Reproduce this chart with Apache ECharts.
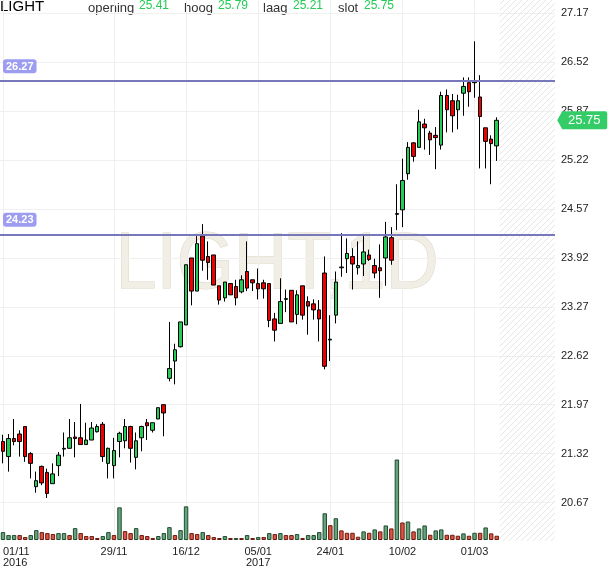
<!DOCTYPE html>
<html><head><meta charset="utf-8">
<script src="https://cdn.jsdelivr.net/npm/echarts@6/dist/echarts.min.js"></script>
<style>html,body{margin:0;padding:0;background:#fff}#c{width:610px;height:568px}</style>
</head><body><div id="c"></div>
<script>
// trading days (Euronext, 26/12 closed)
const nov16 = [1,2,3,4,7,8,9,10,11,14,15,16,17,18,21,22,23,24,25,28,29,30];
const dec16 = [1,2,5,6,7,8,9,12,13,14,15,16,19,20,21,22,23,27,28,29,30];
const jan17 = [2,3,4,5,6,9,10,11,12,13,16,17,18,19,20,23,24,25,26,27,30,31];
const feb17 = [1,2,3,6,7,8,9,10,13,14,15,16,17,20,21,22,23,24,27,28];
const mar17 = [1,2,3,6,7];

const opens = [21.48,21.28,21.52,21.58,21.68,21.32,20.88,21.15,21.07,20.92,
21.16,21.38,21.39,21.54,21.53,21.44,21.50,21.61,21.71,21.19,
21.16,21.48,21.49,21.68,21.27,21.53,21.73,21.63,21.78,21.97,
22.32,22.55,22.74,23.03,23.92,23.48,24.21,23.94,23.96,23.55,
23.39,23.58,23.54,23.47,23.74,23.63,23.58,23.59,23.58,23.11,
23.05,23.37,23.49,23.17,23.55,23.34,23.31,23.23,23.72,22.83,
23.16,23.79,23.91,23.94,23.79,23.84,23.96,23.82,23.79,23.92,
24.19,24.50,24.56,25.04,25.45,25.39,25.70,25.58,25.55,25.42,
26.08,26.01,25.89,26.11,26.25,26.25,26.06,25.65,25.50,25.41];
const closes = [21.35,21.52,21.48,21.48,21.28,21.19,20.96,20.93,20.79,21.05,
21.30,21.39,21.53,21.52,21.44,21.50,21.66,21.68,21.28,21.39,
21.36,21.59,21.68,21.39,21.49,21.68,21.69,21.73,21.93,21.86,
22.45,22.70,23.07,23.83,23.48,24.11,23.89,23.86,23.56,23.36,
23.60,23.43,23.39,23.63,23.52,23.59,23.51,23.51,23.09,22.96,
23.34,23.38,23.07,23.43,23.16,23.28,23.23,23.11,22.48,22.84,
23.60,23.80,23.98,23.84,23.82,24.00,23.90,23.72,23.75,24.20,
23.89,24.51,24.95,25.39,25.27,25.73,25.65,25.49,25.52,26.08,
25.89,25.81,26.01,26.20,26.13,26.26,25.80,25.47,25.44,25.75];
const lows = [21.19,21.08,21.43,21.28,21.21,20.99,20.80,20.90,20.73,20.92,
21.02,21.28,21.39,21.27,21.44,21.44,21.50,21.60,21.21,20.99,
20.99,21.27,21.39,21.20,21.11,21.35,21.50,21.60,21.78,21.55,
22.28,22.24,22.73,23.03,23.29,23.48,23.75,23.63,23.56,23.30,
23.34,23.43,23.29,23.45,23.48,23.48,23.37,23.38,23.00,22.81,
23.05,23.20,23.07,23.04,23.10,22.90,23.10,22.81,22.44,22.55,
23.05,23.67,23.72,23.50,23.70,23.68,23.88,23.65,23.39,23.55,
23.83,24.29,24.33,24.96,25.20,25.39,25.36,25.29,25.10,25.36,
25.59,25.59,25.63,25.81,25.93,26.05,25.11,25.11,24.90,25.21];
const highs = [21.57,21.58,21.78,21.63,21.68,21.34,21.08,21.16,21.12,21.19,
21.34,21.60,21.78,21.74,21.98,21.73,21.74,21.71,21.74,21.40,
21.53,21.61,21.78,21.69,21.60,21.69,21.78,21.73,21.93,21.97,
23.07,22.78,23.07,23.83,23.92,24.21,24.37,24.14,23.96,23.55,
23.60,23.58,23.63,23.69,24.14,23.63,23.78,23.63,23.58,23.19,
23.65,23.50,23.49,23.49,23.55,23.41,23.37,23.36,23.94,23.16,
23.74,24.25,24.18,24.05,24.14,24.21,24.03,23.91,24.10,24.40,
24.33,24.90,25.24,25.46,25.46,25.89,25.77,25.61,25.66,26.13,
26.16,26.10,26.09,26.32,26.32,26.80,26.35,25.65,25.55,25.79];
const volumes = [8,5,5,5,3,5,10,8,7,6,
7,7,5,12,7,4,4,2,4,8,
5,33,9,7,12,5,4,2,4,7,13,
5,10,34,7,6,8,5,3,2,4,
2,2,2,5,2,3,3,7,6,7,
5,5,6,2,5,5,8,27,15,22,
9.7,7.3,7.3,3.3,8.7,7.3,10.7,8.7,14.7,11.7,
81.3,17.7,18.7,8.7,11.7,14.7,5.3,9.7,10.7,5.3,
5.3,4.3,6.7,4.3,7.3,7.3,12.7,6.7,4.3];
const volUp = [1,1,1,0,0,1,1,0,0,0, 1,1,0,1,0,0,0,0,1,1, 0,1,0,0,1,0,0,0,1,1,1,
0,1,1,0,0,1,0,0,0,1, 0,1,0,1,0,1,0,1,0,1, 0,0,1,0,1,1,1,1,0,1,
0,0,0,0,1,0,1,0,1,0, 1,0,1,0,1,1,0,1,1,0, 0,0,1,0,1,0,1,0,0];
const priceTicks = [20.67,21.32,21.97,22.62,23.27,23.92,24.57,25.22,25.87,26.52,27.17];
const levels = [26.27, 24.23];
const labelDates = ['01/11/2016','29/11/2016','16/12/2016','05/01/2017','24/01/2017','10/02/2017','01/03/2017'];
const futureSlots = 10;
const ticker = 'LIGHT';
const watermark = 'LIGHT,1D';

const pad = d => (d < 10 ? '0' : '') + d;
const dates = [];
[[nov16,'11','2016'],[dec16,'12','2016'],[jan17,'01','2017'],[feb17,'02','2017'],[mar17,'03','2017']]
  .forEach(([days, m, y]) => days.forEach(d => dates.push(pad(d) + '/' + m + '/' + y)));
const cats = dates.concat(Array.from({length: futureSlots}, (_, i) => 'f' + (i + 1)));
const candles = dates.map((_, i) => [opens[i], closes[i], lows[i], highs[i]]);
const n = dates.length;
const last = n - 1;

const pc = document.createElement('canvas'); pc.width = 6; pc.height = 6;
const g = pc.getContext('2d'); g.strokeStyle = '#e6e6e6'; g.lineWidth = 1;
g.beginPath(); g.moveTo(0,6); g.lineTo(6,0); g.moveTo(-1,1); g.lineTo(1,-1); g.moveTo(5,7); g.lineTo(7,5); g.stroke();
const hatch = {image: pc, repeat: 'repeat'};

const FONT = 'Liberation Sans, Arial, sans-serif';
const GREEN = '#22cc55';
const labelSet = new Set(labelDates);
const firstOfYear = new Set(['01/11/2016','05/01/2017']);

const chart = echarts.init(document.getElementById('c'), null, {renderer: 'canvas'});
chart.setOption({
  animation: false,
  backgroundColor: '#fff',
  textStyle: {fontFamily: FONT},
  grid: [
    {left: 0, right: 55, top: 0, bottom: 27},
    {left: 0, right: 55, top: 441, bottom: 27}
  ],
  xAxis: [
    {type: 'category', gridIndex: 0, data: cats, boundaryGap: true,
     axisLine: {show: false}, axisTick: {show: false}, axisLabel: {show: false},
     splitLine: {show: true, alignWithLabel: true, interval: (i, v) => labelSet.has(v),
                 lineStyle: {color: '#efefef', width: 1}}},
    {type: 'category', gridIndex: 1, data: cats, boundaryGap: true,
     axisLine: {show: false}, axisTick: {show: false}, splitLine: {show: false},
     axisLabel: {show: true, interval: (i, v) => labelSet.has(v), margin: 6,
       alignMinLabel: 'left',
       color: '#222', fontSize: 11, lineHeight: 11, fontFamily: FONT,
       formatter: v => { const p = v.split('/'); return p[0] + '/' + p[1] + (firstOfYear.has(v) ? '\n' + p[2] : ''); }}}
  ],
  yAxis: [
    {type: 'value', gridIndex: 0, position: 'right', min: 20.158, max: 27.349,
     axisLine: {show: false},
     axisTick: {show: false, customValues: priceTicks},
     axisLabel: {show: true, customValues: priceTicks, margin: 6, color: '#222', fontSize: 11, fontFamily: FONT,
                 formatter: v => v.toFixed(2)},
     splitLine: {show: true, lineStyle: {color: '#f0f0f0', width: 1}}},
    {type: 'value', gridIndex: 1, min: 0, max: 100, show: false, splitLine: {show: false}}
  ],
  graphic: [
    {type: 'text', x: 277, y: 266, z: -10, scaleX: 0.92, silent: true,
     style: {text: watermark, fontSize: 80, fontFamily: FONT, fill: '#f1eee5', stroke: '#dbd5c3', lineWidth: 1,
             align: 'center', verticalAlign: 'middle'}},
    {type: 'text', x: 0, y: 7, style: {text: ticker, fontSize: 15, fontFamily: FONT, fill: '#000', verticalAlign: 'middle'}},
    {type: 'text', x: 88, y: 8, style: {text: 'opening', fontSize: 13, fontFamily: FONT, fill: '#333', verticalAlign: 'middle'}},
    {type: 'text', x: 139, y: 6, style: {text: opens[last].toFixed(2), fontSize: 12, fontFamily: FONT, fill: GREEN, verticalAlign: 'middle'}},
    {type: 'text', x: 184, y: 8, style: {text: 'hoog', fontSize: 13, fontFamily: FONT, fill: '#333', verticalAlign: 'middle'}},
    {type: 'text', x: 218, y: 6, style: {text: highs[last].toFixed(2), fontSize: 12, fontFamily: FONT, fill: GREEN, verticalAlign: 'middle'}},
    {type: 'text', x: 263, y: 8, style: {text: 'laag', fontSize: 13, fontFamily: FONT, fill: '#333', verticalAlign: 'middle'}},
    {type: 'text', x: 293, y: 6, style: {text: lows[last].toFixed(2), fontSize: 12, fontFamily: FONT, fill: GREEN, verticalAlign: 'middle'}},
    {type: 'text', x: 338, y: 8, style: {text: 'slot', fontSize: 13, fontFamily: FONT, fill: '#333', verticalAlign: 'middle'}},
    {type: 'text', x: 364, y: 6, style: {text: closes[last].toFixed(2), fontSize: 12, fontFamily: FONT, fill: GREEN, verticalAlign: 'middle'}}
  ],
  series: [
    {type: 'custom', xAxisIndex: 0, yAxisIndex: 0, silent: true, z: 1,
     data: [[n, n + futureSlots - 1]],
     renderItem: (params, api) => {
       const cs = params.coordSys;
       const bw = api.size([1, 0])[0];
       const x0 = api.coord([api.value(0), 24])[0] - bw / 2;
       const x1 = api.coord([api.value(1), 24])[0] + bw / 2;
       return {type: 'rect', shape: {x: x0, y: cs.y, width: x1 - x0, height: cs.height}, style: {fill: hatch}};
     }},
    {type: 'bar', xAxisIndex: 1, yAxisIndex: 1, barWidth: '80%', z: 2, silent: true,
     data: volumes.map((v, i) => ({value: v, itemStyle: volUp[i]
        ? {color: '#66a27b', borderColor: '#1f4d30', borderWidth: 1}
        : {color: '#dc5542', borderColor: '#6e1b10', borderWidth: 1}}))},
    {type: 'candlestick', xAxisIndex: 0, yAxisIndex: 0, z: 3, barWidth: 4, clip: false,
     data: candles,
     itemStyle: {color: GREEN, color0: '#ee0000', borderColor: '#000', borderColor0: '#000', borderWidth: 1},
     markLine: {silent: true, symbol: ['none', 'none'], animation: false,
       lineStyle: {color: '#7777bb', width: 2, type: 'solid'},
       label: {show: true, position: 'insideStartTop', distance: [3, 8], formatter: p => p.value.toFixed(2),
               color: '#fff', backgroundColor: '#9c9cf0', padding: [2, 3, 1, 3], borderRadius: 3,
               fontSize: 11, fontWeight: 'bold', fontFamily: FONT},
       data: levels.map(v => ({yAxis: v}))},
     markPoint: {silent: true, animation: false,
       symbol: 'path://M0,9 L5,0 L48,0 Q50,0 50,2 L50,16 Q50,18 48,18 L5,18 Z',
       symbolSize: [50, 18], symbolOffset: [30, 0], symbolKeepAspect: false,
       itemStyle: {color: '#33cc66'},
       label: {show: true, position: 'inside', offset: [2, 0], color: '#fff', fontSize: 13, fontFamily: FONT,
               formatter: () => closes[last].toFixed(2)},
       data: [{coord: [n + futureSlots - 1, closes[last]]}]}}
  ]
});
</script></body></html>
